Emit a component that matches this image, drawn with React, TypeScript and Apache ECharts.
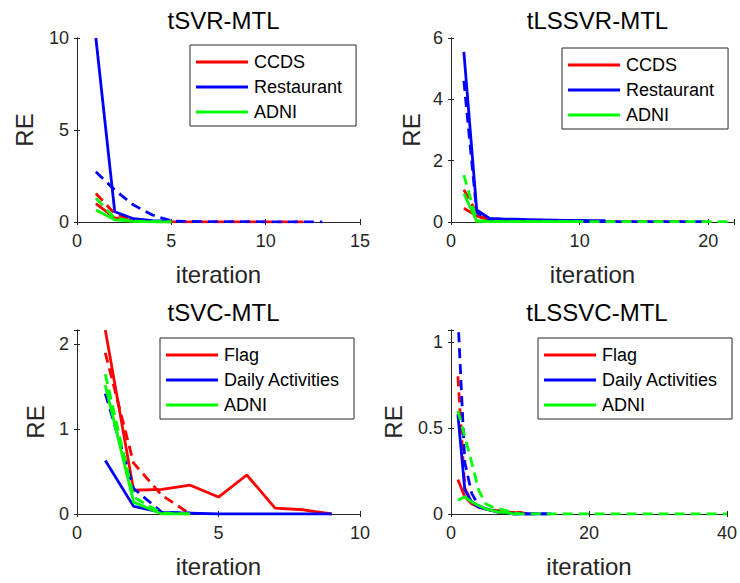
import React, { useEffect, useRef } from "react";
import * as echarts from "echarts";

// ---------- data ----------
const panelTitles = ["tSVR-MTL", "tLSSVR-MTL", "tSVC-MTL", "tLSSVC-MTL"];
const regNames = ["CCDS", "Restaurant", "ADNI"];
const clsNames = ["Flag", "Daily Activities", "ADNI"];
const xLabel = "iteration";
const yLabel = "RE";

// panel 1: tSVR-MTL (values at iteration 1,2,3,...)
const p1CcdsSolid = [1.0, 0.22, 0.06, 0.02, 0.01];
const p1CcdsDashed = [1.55, 0.45, 0.1, 0.03, 0.01, 0.01, 0.01, 0.01, 0.01, 0.01, 0.01, 0.01];
const p1RestSolid = [10.0, 0.56, 0.18, 0.08, 0.04];
const p1RestDashed = [2.73, 1.74, 0.92, 0.38, 0.06, 0.03, 0.02, 0.02, 0.02, 0.01, 0.01, 0.01, 0.01];
const p1AdniSolid = [0.65, 0.12, 0.03, 0.01, 0.0];
const p1AdniDashed = [1.3, 0.2, 0.05, 0.02, 0.01];

// panel 2: tLSSVR-MTL
const p2CcdsSolid = [0.45, 0.2, 0.05, 0.03, 0.02, 0.02, 0.01, 0.01, 0.01, 0.01];
const p2CcdsDashed = [1.05, 0.3, 0.06, 0.03, 0.02, 0.02, 0.02, 0.01, 0.01, 0.01, 0.01, 0.01, 0.01, 0.01, 0.01, 0.01, 0.01, 0.01];
const p2RestSolid = [5.55, 0.39, 0.12, 0.1, 0.09, 0.08, 0.07, 0.06, 0.05, 0.05, 0.04, 0.04];
const p2RestDashed = [4.6, 0.3, 0.08, 0.04, 0.03, 0.02, 0.02, 0.02, 0.01, 0.01, 0.01, 0.01, 0.01, 0.01, 0.01, 0.01, 0.01, 0.01, 0.01, 0.01];
const p2AdniSolid = [0.93, 0.02, 0.01, 0.01, 0.01, 0.01, 0.01, 0.01, 0.01, 0.01];
const p2AdniDashed = [1.53, 0.05, 0.02, 0.01, 0.01, 0.01, 0.01, 0.01, 0.01, 0.01, 0.01, 0.01, 0.01, 0.01, 0.01, 0.01, 0.01, 0.01, 0.01, 0.01, 0.01, 0.01];

// panel 3: tSVC-MTL
const p3FlagSolid = [2.17, 0.28, 0.29, 0.34, 0.2, 0.46, 0.07, 0.05, 0.0];
const p3FlagDashed = [1.9, 0.6, 0.22, 0.0];
const p3DailySolid = [0.63, 0.09, 0.02, 0.01, 0.0, 0.0, 0.0, 0.0, 0.0];
const p3DailyDashed = [1.42, 0.3, 0.02, 0.01];
const p3AdniSolid = [1.52, 0.14, 0.0, 0.0];
const p3AdniDashed = [1.65, 0.2, 0.01, 0.0];

// panel 4: tLSSVC-MTL
const p4FlagSolid = [0.2, 0.1, 0.06, 0.04, 0.03, 0.02, 0.02, 0.01, 0.01, 0.01, 0.0];
const p4FlagDashed = [0.8, 0.15, 0.07, 0.04, 0.03, 0.02, 0.02, 0.01, 0.01, 0.01, 0.0, 0.0];
const p4DailySolid = [0.58, 0.14, 0.07, 0.04, 0.03, 0.02, 0.01, 0.01, 0.0, 0.0, 0.0, 0.0, 0.0, 0.0];
const p4DailyDashed = [1.15, 0.3, 0.12, 0.05, 0.03, 0.02, 0.01, 0.01, 0.0, 0.0, 0.0, 0.0, 0.0, 0.0, 0.0];
const p4AdniSolid = [0.08, 0.1, 0.07, 0.05, 0.03, 0.02, 0.01, 0.01, 0.0, 0.0];
const p4AdniDashed = [0.6, 0.45, 0.3, 0.14, 0.06, 0.04, 0.03, 0.02, 0.01, 0.0, 0.0, 0.0, 0.0, 0.0, 0.0, 0.0, 0.0, 0.0, 0.0, 0.0,
  0.0, 0.0, 0.0, 0.0, 0.0, 0.0, 0.0, 0.0, 0.0, 0.0, 0.0, 0.0, 0.0, 0.0, 0.0, 0.0, 0.0, 0.0, 0.0, 0.0];

// axis ranges
const xMax = [15, 22, 10, 40];
const xInterval = [5, 10, 5, 20];
const yMax = [10, 6, 2.17, 1.07];
const yInterval = [5, 2, 1, 0.5];

const colors = ["#ff0000", "#0000ff", "#00ff00"];

// ---------- layout ----------
const grids = [
  { left: 77, top: 38, width: 283, height: 184 },
  { left: 451, top: 38, width: 283, height: 184 },
  { left: 77, top: 330, width: 283, height: 184 },
  { left: 451, top: 330, width: 282, height: 184 },
];
const yNameGap = [41, 28, 30, 46];
const legendPos = [
  { left: 190, top: 45 },
  { left: 562, top: 48 },
  { left: 160, top: 338 },
  { left: 538, top: 338 },
];

const AXIS_COLOR = "#262626";
const FONT = "Arial, 'Liberation Sans', Helvetica, sans-serif";

function tickFmt(interval: number) {
  return (v: number) => {
    const r = v / interval;
    if (Math.abs(r - Math.round(r)) > 1e-6) return "";
    return String(Math.round(v * 1000) / 1000);
  };
}

export default function App() {
  const ref = useRef<HTMLDivElement>(null);
  useEffect(() => {
    if (!ref.current) return;
    const chart = echarts.init(ref.current, null, { renderer: "svg" });

    const panelSeries = [
      [p1CcdsSolid, p1CcdsDashed, p1RestSolid, p1RestDashed, p1AdniSolid, p1AdniDashed],
      [p2CcdsSolid, p2CcdsDashed, p2RestSolid, p2RestDashed, p2AdniSolid, p2AdniDashed],
      [p3FlagSolid, p3FlagDashed, p3DailySolid, p3DailyDashed, p3AdniSolid, p3AdniDashed],
      [p4FlagSolid, p4FlagDashed, p4DailySolid, p4DailyDashed, p4AdniSolid, p4AdniDashed],
    ];
    const panelNames = [regNames, regNames, clsNames, clsNames];

    const xAxis: any[] = [];
    const yAxis: any[] = [];
    const series: any[] = [];
    const legend: any[] = [];
    const title: any[] = [];

    grids.forEach((g, p) => {
      const axisLine = { show: true, lineStyle: { color: AXIS_COLOR, width: 1 } };
      const tick = { show: true, inside: true, length: 3, lineStyle: { color: AXIS_COLOR } };
      const labelStyle = { color: AXIS_COLOR, fontSize: 18, fontFamily: FONT };
      xAxis.push({
        type: "value", gridIndex: p, position: "bottom", min: 0, max: xMax[p], interval: xInterval[p],
        axisLine, axisTick: tick, splitLine: { show: false },
        axisLabel: { ...labelStyle, margin: 10, formatter: tickFmt(xInterval[p]) },
        name: xLabel, nameLocation: "middle", nameGap: 40,
        nameTextStyle: { color: AXIS_COLOR, fontSize: 24, fontFamily: FONT },
      });
      xAxis.push({
        type: "value", gridIndex: p, position: "top", min: 0, max: xMax[p], interval: xInterval[p],
        axisLine, axisTick: tick, splitLine: { show: false }, axisLabel: { show: false },
      });
      yAxis.push({
        type: "value", gridIndex: p, position: "left", min: 0, max: yMax[p], interval: yInterval[p],
        axisLine, axisTick: tick, splitLine: { show: false },
        axisLabel: { ...labelStyle, margin: 8, formatter: tickFmt(yInterval[p]) },
        name: yLabel, nameLocation: "middle", nameGap: yNameGap[p],
        nameTextStyle: { color: AXIS_COLOR, fontSize: 24, fontFamily: FONT },
      });
      yAxis.push({
        type: "value", gridIndex: p, position: "right", min: 0, max: yMax[p], interval: yInterval[p],
        axisLine, axisTick: tick, splitLine: { show: false }, axisLabel: { show: false },
      });

      panelSeries[p].forEach((arr, k) => {
        const ds = Math.floor(k / 2);
        const dashed = k % 2 === 1;
        series.push({
          type: "line",
          name: dashed ? panelNames[p][ds] + " (dashed)" : panelNames[p][ds],
          xAxisIndex: 2 * p, yAxisIndex: 2 * p,
          data: arr.map((v, i) => [i + 1, v]),
          symbol: "none",
          color: colors[ds],
          lineStyle: { color: colors[ds], width: 2.8, type: dashed ? [10, 6] : "solid" },
          clip: true,
        });
      });

      legend.push({
        data: panelNames[p],
        orient: "vertical",
        left: legendPos[p].left, top: legendPos[p].top,
        icon: "rect", itemWidth: 52, itemHeight: 3, itemGap: 7,
        padding: [8, 14, 5, 6],
        borderColor: AXIS_COLOR, borderWidth: 1, backgroundColor: "#ffffff",
        textStyle: { color: "#000", fontSize: 18, fontFamily: FONT, padding: [0, 0, 0, 1] },
        selectedMode: false,
      });

      title.push({
        text: panelTitles[p],
        left: g.left + g.width / 2, top: p >= 2 ? 295 : 3, textAlign: "center",
        textStyle: { color: "#000", fontSize: 24, fontWeight: "normal", fontFamily: FONT },
      });
    });

    chart.setOption({
      animation: false,
      backgroundColor: "#ffffff",
      grid: grids.map((g) => ({ ...g, containLabel: false })),
      xAxis, yAxis, series, legend, title,
    });
    return () => chart.dispose();
  }, []);
  return (
    <div ref={ref} style={{ position: "fixed", left: 0, top: 0, width: 740, height: 583, background: "#fff" }} />
  );
}
